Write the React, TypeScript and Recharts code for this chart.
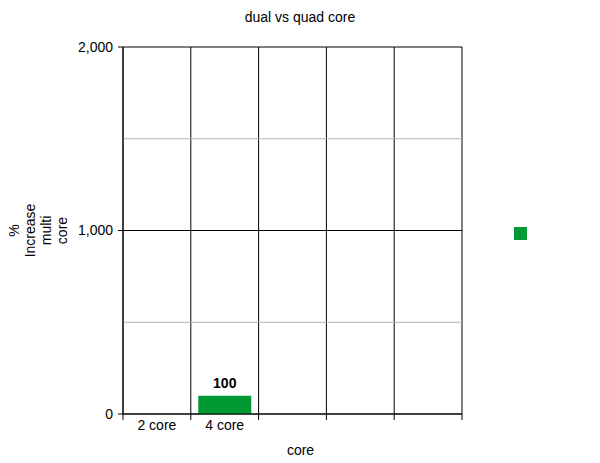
import React from "react";
import {
  BarChart,
  Bar,
  XAxis,
  YAxis,
  CartesianGrid,
  ReferenceLine,
  LabelList,
  Legend,
  Label,
} from "recharts";

const CATEGORIES = ["2 core", "4 core", "", "", ""];
const INCREASE = [null, 100, null, null, null];
const Y_TICKS = [0, 1000, 2000];
const MINOR_LINES = [500, 1500];
const Y_LABEL_LINES = ["%", "Increase", "multi", "core"];

const GREEN = "#009933";
const FONT = "Liberation Sans, Arial, sans-serif";

const data = CATEGORIES.map((core, i) => ({ core, key: i, increase: INCREASE[i] }));

function CoreTick(props: any) {
  const { x, y, payload, index } = props;
  const half = payload && payload.offset ? payload.offset : 33.9;
  const left = x - half;
  const right = x + half;
  return (
    <g>
      <line x1={left} y1={y} x2={left} y2={y + 6} stroke="#000" />
      {index === CATEGORIES.length - 1 && (
        <line x1={right} y1={y} x2={right} y2={y + 6} stroke="#000" />
      )}
      <text x={x} y={y + 16} textAnchor="middle" fontSize={14} fill="#000" fontFamily={FONT}>
        {CATEGORIES[payload.value]}
      </text>
    </g>
  );
}

function YTitle(props: any) {
  const vb = props.viewBox || {};
  const cy = vb.y + vb.height / 2;
  return (
    <g>
      {Y_LABEL_LINES.map((t, i) => (
        <text
          key={i}
          x={19 + i * 16}
          y={cy}
          transform={`rotate(-90 ${19 + i * 16} ${cy})`}
          textAnchor="middle"
          fontSize={14}
          fill="#000"
          fontFamily={FONT}
        >
          {t}
        </text>
      ))}
    </g>
  );
}

export default function App() {
  return (
    <div style={{ position: "fixed", left: 0, top: 0, width: 600, height: 463, background: "#fff", fontFamily: FONT }}>
      <div style={{ position: "absolute", top: 9, left: 0, width: 600, textAlign: "center", fontSize: 14, color: "#000" }}>
        dual vs quad core
      </div>
      <BarChart
        width={600}
        height={463}
        data={data}
        margin={{ top: 47, right: 138, bottom: 9, left: 0 }}
        barCategoryGap="11%"
      >
        <CartesianGrid
          stroke="#000"
          horizontal
          vertical
          verticalCoordinatesGenerator={({ offset }: any) =>
            Array.from({ length: CATEGORIES.length + 1 }, (_, i) => offset.left + (i * offset.width) / CATEGORIES.length)
          }
        />
        {MINOR_LINES.map((v) => (
          <ReferenceLine key={v} y={v} stroke="#b3b3b3" />
        ))}
        <XAxis
          dataKey="key"
          type="category"
          axisLine={{ stroke: "#000" }}
          tickLine={false}
          tickSize={0}
          tickMargin={0}
          height={40}
          tick={<CoreTick />}
          interval={0}
        >
          <Label value="core" position="insideBottom" offset={-1} dx={8} fontSize={14} fill="#000" fontFamily={FONT} />
        </XAxis>
        <YAxis
          width={123}
          domain={[0, 2000]}
          ticks={Y_TICKS}
          tickFormatter={(v: number) => v.toLocaleString("en-US")}
          axisLine={{ stroke: "#000" }}
          tickLine={{ stroke: "#000" }}
          tickSize={5}
          tickMargin={5}
          tick={{ fill: "#000", fontSize: 14, fontFamily: FONT }}
        >
          <Label content={<YTitle />} />
        </YAxis>
        <Legend
          layout="horizontal"
          verticalAlign="middle"
          align="center"
          wrapperStyle={{ position: "absolute", left: 514, top: 227, width: 13, height: 13 }}
          content={() => <div style={{ width: 13, height: 13, background: GREEN }} />}
        />
        <Bar dataKey="increase" fill={GREEN} isAnimationActive={false}>
          <LabelList dataKey="increase" position="top" offset={8} fontSize={14} fontWeight="bold" fill="#000" fontFamily={FONT} />
        </Bar>
      </BarChart>
    </div>
  );
}
